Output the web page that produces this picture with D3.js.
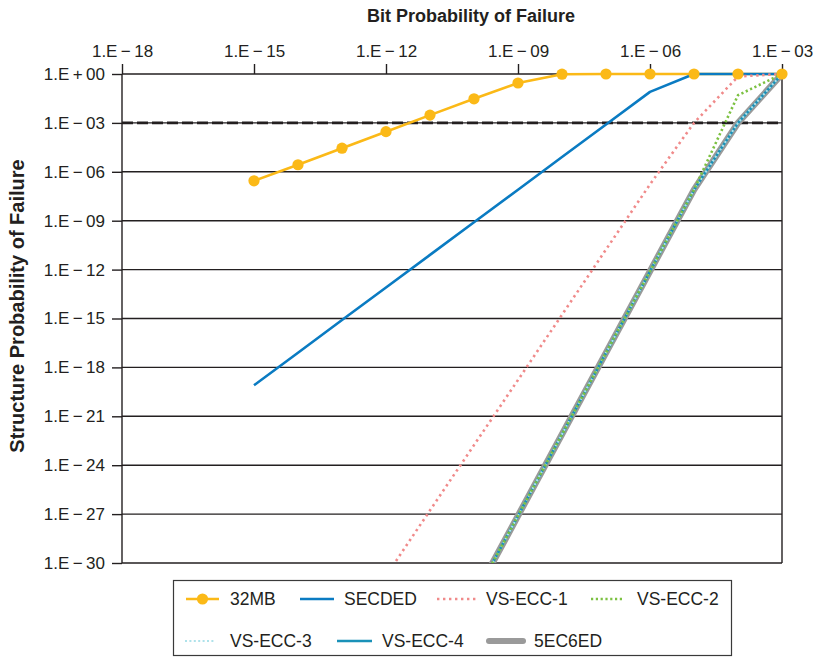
<!DOCTYPE html>
<html>
<head>
<meta charset="utf-8">
<script src="https://cdn.jsdelivr.net/npm/d3@7"></script>
<style>
  html, body { margin: 0; padding: 0; background: #fff; }
  svg { display: block; font-family: "Liberation Sans", Arial, Helvetica, sans-serif; }
</style>
</head>
<body>
<svg id="chart" width="813" height="657"></svg>
<script>
// Bit failure probability (x) for each data column
const bitProb = [1e-15, 1e-14, 1e-13, 1e-12, 1e-11, 1e-10, 1e-9, 1e-8, 1e-7, 1e-6, 1e-5, 1e-4, 1e-3];

// Structure failure probability per protection scheme
const mb32   = [2.8e-7, 2.7e-6, 2.8e-5, 2.9e-4, 3.0e-3, 3.0e-2, 0.28, 0.97, 1, 1, 1, 1, 1];
const secded = [8e-20, 8e-18, 8e-16, 8e-14, 8e-12, 8e-10, 8e-8, 8e-6, 8e-4, 8e-2, 1, 1, 1];

const vsBitProb1 = [1e-12, 1e-11, 1e-10, 1e-9, 1e-8, 1e-7, 1e-6, 1e-5, 1e-4, 1e-3];
const vsEcc1     = [1.6e-31, 1.7e-27, 1.7e-23, 1.7e-19, 1.7e-15, 1.7e-11, 1.7e-7, 1e-3, 0.7, 1];

const vsBitProb = [1e-10, 1e-9, 1e-8, 1e-7, 1e-6, 1e-5, 1e-4, 1e-3];
const vsEcc2    = [7.9e-33, 7.9e-28, 7.9e-23, 7.9e-18, 7.9e-13, 7.9e-8, 5e-2, 1];
const vsEcc3    = [7.9e-33, 7.9e-28, 7.9e-23, 7.9e-18, 7.9e-13, 7.9e-8, 1e-3, 1];
const vsEcc4    = [7.9e-33, 7.9e-28, 7.9e-23, 7.9e-18, 7.9e-13, 7.9e-8, 1e-3, 1];
const ec6ed     = [7.9e-33, 7.9e-28, 7.9e-23, 7.9e-18, 7.9e-13, 7.9e-8, 1e-3, 1];

// Axis ticks and their labels
const xTicks = [1e-18, 1e-15, 1e-12, 1e-9, 1e-6, 1e-3];
const xTickLabels = ["1.E\u2009\u2212\u200918", "1.E\u2009\u2212\u200915", "1.E\u2009\u2212\u200912",
                     "1.E\u2009\u2212\u200909", "1.E\u2009\u2212\u200906", "1.E\u2009\u2212\u200903"];
const yTicks = [1e0, 1e-3, 1e-6, 1e-9, 1e-12, 1e-15, 1e-18, 1e-21, 1e-24, 1e-27, 1e-30];
const yTickLabels = ["1.E\u2009+\u200900", "1.E\u2009\u2212\u200903", "1.E\u2009\u2212\u200906",
                     "1.E\u2009\u2212\u200909", "1.E\u2009\u2212\u200912", "1.E\u2009\u2212\u200915",
                     "1.E\u2009\u2212\u200918", "1.E\u2009\u2212\u200921", "1.E\u2009\u2212\u200924",
                     "1.E\u2009\u2212\u200927", "1.E\u2009\u2212\u200930"];
const threshold = 1e-3;

const legendLabels = ["32MB", "SECDED", "VS-ECC-1", "VS-ECC-2", "VS-ECC-3", "VS-ECC-4", "5EC6ED"];

(function draw() {
  // ---- layout ----
  const pl = 122, pr = 782, pt = 74, pb = 563;
  const svg = d3.select("#chart");

  const x = d3.scaleLog().domain([1e-18, 1e-3]).range([pl, pr]);
  const y = d3.scaleLog().domain([1e-30, 1]).range([pb, pt]);

  const ink = "#231f20";

  // horizontal gridlines
  svg.append("g").selectAll("line").data(yTicks).join("line")
    .attr("x1", pl).attr("x2", pr)
    .attr("y1", d => y(d)).attr("y2", d => y(d))
    .attr("stroke", ink).attr("stroke-width", 1.4);

  // top axis (ticks pointing up)
  const xAxis = d3.axisTop(x).tickValues(xTicks)
    .tickFormat((d, i) => xTickLabels[i]).tickSize(10).tickSizeOuter(0).tickPadding(7);
  const gx = svg.append("g").attr("transform", `translate(0,${pt})`).call(xAxis);
  gx.select(".domain").remove();
  gx.selectAll(".tick line").attr("stroke", ink).attr("stroke-width", 1.4);
  gx.selectAll(".tick text").attr("fill", ink).attr("font-size", 17);
  gx.attr("font-family", null);

  // left axis
  const yAxis = d3.axisLeft(y).tickValues(yTicks)
    .tickFormat((d, i) => yTickLabels[i]).tickSize(10).tickSizeOuter(0).tickPadding(7);
  const gy = svg.append("g").attr("transform", `translate(${pl},0)`).call(yAxis);
  gy.select(".domain").remove();
  gy.selectAll(".tick line").attr("stroke", ink).attr("stroke-width", 1.4);
  gy.selectAll(".tick text").attr("fill", ink).attr("font-size", 17);
  gy.attr("font-family", null);

  // frame verticals
  svg.append("line").attr("x1", pl).attr("x2", pl).attr("y1", pt).attr("y2", pb)
    .attr("stroke", ink).attr("stroke-width", 1.4);
  svg.append("line").attr("x1", pr).attr("x2", pr).attr("y1", pt).attr("y2", pb)
    .attr("stroke", ink).attr("stroke-width", 1.4);

  // axis titles
  svg.append("text").attr("x", 471).attr("y", 22)
    .attr("text-anchor", "middle").attr("font-weight", "bold").attr("font-size", 18)
    .attr("fill", ink).text("Bit Probability of Failure");
  svg.append("text")
    .attr("transform", `translate(24,306) rotate(-90)`)
    .attr("text-anchor", "middle").attr("font-weight", "bold").attr("font-size", 20)
    .attr("fill", ink).text("Structure Probability of Failure");

  // threshold line
  svg.append("line").attr("x1", pl).attr("x2", pr)
    .attr("y1", y(threshold)).attr("y2", y(threshold))
    .attr("stroke", ink).attr("stroke-width", 2.8).attr("stroke-dasharray", "11,4");

  // clip for series
  svg.append("defs").append("clipPath").attr("id", "plot")
    .append("rect").attr("x", pl).attr("y", pt - 8)
    .attr("width", pr - pl + 8).attr("height", pb - pt + 8);

  const plot = svg.append("g").attr("clip-path", "url(#plot)");
  const line = d3.line().x(d => x(d[0])).y(d => y(d[1]));
  const pairs = (xs, ys) => xs.map((v, i) => [v, ys[i]]);

  const styles = {
    mb32:   { color: "#fbb917", width: 2.6 },
    secded: { color: "#0a7bc2", width: 2.6 },
    vs1:    { color: "#f08a8a", width: 2.6, dash: "2.4,3.6" },
    vs2:    { color: "#7cc142", width: 2.6, dash: "2.2,2.6" },
    vs3:    { color: "#aee2ea", width: 2.2, dash: "2,2.4" },
    vs4:    { color: "#1a91b8", width: 2.6 },
    ec6ed:  { color: "#9a9a9a", width: 6.5 }
  };

  function drawSeries(data, st) {
    plot.append("path").datum(data).attr("d", line)
      .attr("fill", "none").attr("stroke", st.color).attr("stroke-width", st.width)
      .attr("stroke-linejoin", "round")
      .attr("stroke-dasharray", st.dash || null);
  }

  drawSeries(pairs(bitProb, mb32), styles.mb32);
  drawSeries(pairs(bitProb, secded), styles.secded);
  drawSeries(pairs(vsBitProb1, vsEcc1), styles.vs1);
  drawSeries(pairs(vsBitProb, ec6ed), styles.ec6ed);
  drawSeries(pairs(vsBitProb, vsEcc4), styles.vs4);
  drawSeries(pairs(vsBitProb, vsEcc3), styles.vs3);
  drawSeries(pairs(vsBitProb, vsEcc2), styles.vs2);

  // 32MB markers on top
  svg.append("g").selectAll("circle").data(pairs(bitProb, mb32)).join("circle")
    .attr("cx", d => x(d[0])).attr("cy", d => y(d[1])).attr("r", 5.6)
    .attr("fill", styles.mb32.color);

  // ---- legend ----
  const lg = svg.append("g");
  lg.append("rect").attr("x", 173.5).attr("y", 580.5).attr("width", 558).attr("height", 75)
    .attr("fill", "#fff").attr("stroke", "#3a3a3a").attr("stroke-width", 1.2);

  const legendKeys = ["mb32", "secded", "vs1", "vs2", "vs3", "vs4", "ec6ed"];
  const legendPos = [
    { x1: 186, x2: 219, tx: 230, y: 599 },
    { x1: 300, x2: 334, tx: 344, y: 599 },
    { x1: 437, x2: 477, tx: 486, y: 599 },
    { x1: 591, x2: 622, tx: 637, y: 599 },
    { x1: 185, x2: 215, tx: 230, y: 641 },
    { x1: 337, x2: 372, tx: 382, y: 641 },
    { x1: 489, x2: 523, tx: 534, y: 641 }
  ];
  legendLabels.forEach((label, i) => {
    const st = styles[legendKeys[i]];
    const p = legendPos[i];
    lg.append("line").attr("x1", p.x1).attr("x2", p.x2).attr("y1", p.y).attr("y2", p.y)
      .attr("stroke", st.color)
      .attr("stroke-width", legendKeys[i] === "ec6ed" ? 6 : st.width)
      .attr("stroke-linecap", legendKeys[i] === "ec6ed" ? "round" : "butt")
      .attr("stroke-dasharray", st.dash || null);
    if (legendKeys[i] === "mb32") {
      lg.append("circle").attr("cx", (p.x1 + p.x2) / 2).attr("cy", p.y).attr("r", 5.6)
        .attr("fill", st.color);
    }
    lg.append("text").attr("x", p.tx).attr("y", p.y).attr("dy", "0.36em")
      .attr("font-size", 17.5).attr("fill", ink).text(label);
  });
})();
</script>
</body>
</html>
